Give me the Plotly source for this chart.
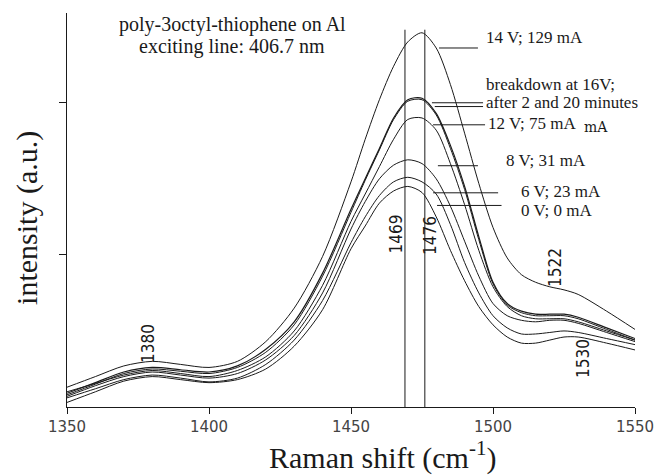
import plotly.graph_objects as go

# Raman shift grid (cm^-1)
raman_shift = [1350, 1360, 1370, 1380, 1390, 1400, 1410, 1420, 1430, 1440, 1450, 1455, 1460,
               1465, 1470, 1475, 1480, 1485, 1490, 1495, 1500, 1505, 1510, 1515, 1520, 1525,
               1530, 1540, 1550]

# intensities (a.u.)
i_14V = [0.13, 0.20, 0.27, 0.30, 0.28, 0.26, 0.30, 0.43, 0.65, 0.99, 1.48, 1.76, 2.02,
         2.24, 2.40, 2.46, 2.36, 2.12, 1.80, 1.47, 1.18, 0.98, 0.87, 0.82, 0.79, 0.77,
         0.74, 0.63, 0.51]
i_break_2min = [0.09, 0.16, 0.23, 0.26, 0.245, 0.23, 0.27, 0.38, 0.56, 0.88, 1.30, 1.50, 1.70,
                1.90, 2.02, 2.03, 1.93, 1.72, 1.45, 1.12, 0.82, 0.68, 0.63, 0.61, 0.61, 0.61,
                0.59, 0.52, 0.45]
i_break_20min = [0.08, 0.15, 0.22, 0.25, 0.235, 0.22, 0.26, 0.36, 0.54, 0.86, 1.28, 1.49, 1.69,
                 1.89, 2.01, 2.02, 1.92, 1.70, 1.43, 1.10, 0.81, 0.67, 0.62, 0.60, 0.60, 0.60,
                 0.58, 0.51, 0.44]
i_12V = [0.10, 0.155, 0.21, 0.24, 0.22, 0.20, 0.24, 0.33, 0.50, 0.80, 1.22, 1.40, 1.58,
         1.76, 1.89, 1.90, 1.82, 1.60, 1.33, 1.03, 0.79, 0.66, 0.60, 0.58, 0.58, 0.58,
         0.56, 0.50, 0.44]
i_8V = [0.07, 0.14, 0.20, 0.23, 0.21, 0.19, 0.22, 0.31, 0.47, 0.75, 1.17, 1.35, 1.50,
        1.59, 1.625, 1.60, 1.50, 1.32, 1.09, 0.86, 0.68, 0.60, 0.57, 0.56, 0.57, 0.57,
        0.55, 0.49, 0.43]
i_6V = [0.06, 0.12, 0.18, 0.21, 0.19, 0.165, 0.19, 0.28, 0.44, 0.70, 1.08, 1.25, 1.39,
        1.48, 1.51, 1.48, 1.40, 1.20, 0.95, 0.75, 0.60, 0.52, 0.48, 0.48, 0.49, 0.50,
        0.49, 0.45, 0.41]
i_0V = [0.03, 0.10, 0.17, 0.20, 0.18, 0.16, 0.18, 0.25, 0.40, 0.64, 1.04, 1.19, 1.34,
        1.42, 1.45, 1.41, 1.25, 1.03, 0.83, 0.66, 0.54, 0.46, 0.42, 0.42, 0.44, 0.46,
        0.46, 0.42, 0.375]

series = [
    ("14 V; 129 mA", i_14V, 1.0),
    ("breakdown 2 min", i_break_2min, 1.2),
    ("breakdown 20 min", i_break_20min, 1.0),
    ("12 V; 75 mA", i_12V, 1.0),
    ("8 V; 31 mA", i_8V, 1.0),
    ("6 V; 23 mA", i_6V, 1.0),
    ("0 V; 0 mA", i_0V, 1.0),
]

# marked band positions
band_lines = [1469, 1476]
band_labels = ["1380", "1469", "1476", "1522", "1530"]

x_ticks = [1350, 1400, 1450, 1500, 1550]
x_ticktext = ["1350", "1400", "1450", "1500", "1550"]

serif = "Liberation Serif, Times New Roman, serif"
narrow = "Liberation Sans Narrow, DejaVu Sans Condensed, sans-serif"
ink = "#1a1a1a"

fig = go.Figure()
for name, vals, w in series:
    fig.add_trace(go.Scatter(x=raman_shift, y=vals, mode="lines", name=name,
                             line=dict(color=ink, width=w, shape="spline", smoothing=0.8),
                             hoverinfo="skip"))

for b in band_lines:
    fig.add_trace(go.Scatter(x=[b, b], y=[0, 2.48], mode="lines",
                             line=dict(color=ink, width=1), hoverinfo="skip"))

# callout lines (label leaders)
leaders = [
    (1481.0, 1494.7, 2.36),
    (1478.5, 1496.5, 2.00),
    (1479.5, 1496.5, 1.975),
    (1478.9, 1497.2, 1.855),
    (1480.6, 1494.7, 1.586),
    (1478.9, 1501.8, 1.408),
    (1480.3, 1503.0, 1.325),
]
for x0, x1, yy in leaders:
    fig.add_shape(type="line", x0=x0, x1=x1, y0=yy, y1=yy, xref="x", yref="y",
                  line=dict(color=ink, width=1))

ann = []
curve_text = [
    ("14 V; 129 mA", 1496.8, 2.43),
    ("breakdown at 16V;", 1496.8, 2.118),
    ("after 2 and 20 minutes", 1496.8, 2.0),
    ("12 V; 75 mA", 1497.4, 1.862),
    ("8 V; 31 mA", 1503.9, 1.618),
    ("6 V; 23 mA", 1509.2, 1.414),
    ("0 V; 0 mA", 1509.2, 1.289),
]
for t, xx, yy in curve_text:
    ann.append(dict(text=t, x=xx, y=yy, xref="x", yref="y", xanchor="left", yanchor="middle",
                    showarrow=False, font=dict(family=serif, size=17, color=ink)))
ann.append(dict(text="mA", x=1536.3, y=1.842, xref="x", yref="y", xanchor="center",
                yanchor="middle", showarrow=False,
                font=dict(family="DejaVu Serif, serif", size=14, color=ink)))

ann.append(dict(text="poly-3octyl-thiophene on Al", x=1408.1, y=2.513, xref="x", yref="y",
                xanchor="center", yanchor="middle", showarrow=False,
                font=dict(family=serif, size=20, color=ink)))
ann.append(dict(text="exciting line: 406.7 nm", x=1408.1, y=2.368, xref="x", yref="y",
                xanchor="center", yanchor="middle", showarrow=False,
                font=dict(family=serif, size=20, color=ink)))

band_pos = [(1378.5, 0.42), (1465.8, 1.14), (1477.8, 1.13), (1521.8, 0.92), (1531.7, 0.316)]
for t, (xx, yy) in zip(band_labels, band_pos):
    ann.append(dict(text=t, x=xx, y=yy, xref="x", yref="y", textangle=-90, showarrow=False,
                    xanchor="center", yanchor="middle",
                    font=dict(family=narrow, size=17, color=ink)))

ann.append(dict(text="Raman shift (cm<sup>-1</sup>)", x=0.556, y=-0.124, xref="paper",
                yref="paper", xanchor="center", yanchor="middle", showarrow=False,
                font=dict(family=serif, size=30, color=ink)))
ann.append(dict(text="intensity (a.u.)", x=-0.0704, y=0.48, xref="paper", yref="paper",
                xanchor="center", yanchor="middle", textangle=-90, showarrow=False,
                font=dict(family=serif, size=30, color=ink)))

# page body has an 8 px margin: size the figure so the plot area lands where the reference has it
fig.update_layout(
    width=656, height=467,
    margin=dict(l=59, r=29, t=5, b=68),
    plot_bgcolor="white", paper_bgcolor="white",
    showlegend=False,
    annotations=ann,
    xaxis=dict(range=[1350, 1550], tickvals=x_ticks, ticktext=x_ticktext,
               ticks="outside", ticklen=6, tickcolor=ink,
               showline=True, linecolor=ink, linewidth=1,
               showgrid=False, zeroline=False,
               tickfont=dict(family="DejaVu Sans, sans-serif", size=15, color="#444")),
    yaxis=dict(range=[0, 2.59], tickvals=[1, 2], showticklabels=False,
               ticks="outside", ticklen=7, tickcolor=ink,
               showline=True, linecolor=ink, linewidth=1,
               showgrid=False, zeroline=False),
)

fig.write_html("out.html")
